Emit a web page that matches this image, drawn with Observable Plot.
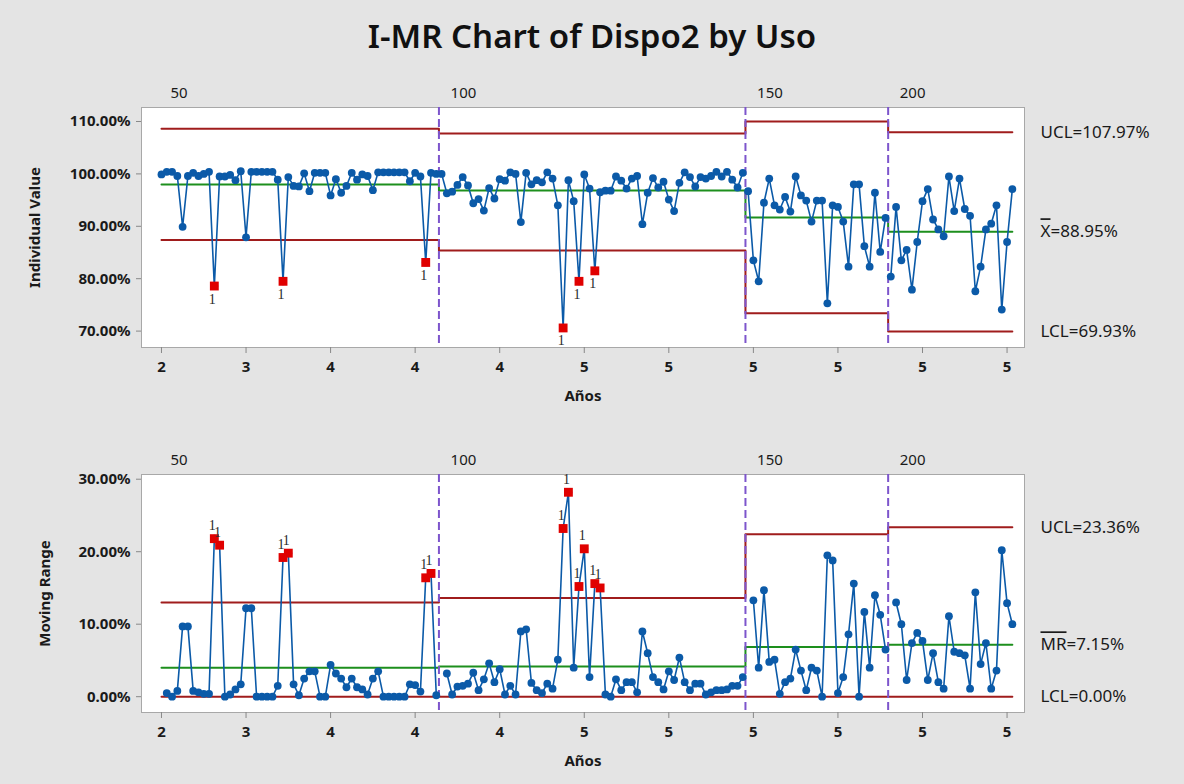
<!DOCTYPE html>
<html><head><meta charset="utf-8">
<script src="https://cdn.jsdelivr.net/npm/d3@7"></script>
<script src="https://cdn.jsdelivr.net/npm/@observablehq/plot@0.6"></script>
<style>
body{margin:0;background:#e4e4e4;font-family:"Noto Sans",sans-serif;}
#wrap{width:1184px;height:784px;overflow:hidden;background:#e4e4e4;}
#title{height:72px;line-height:72px;text-align:center;font-size:33px;font-weight:600;color:#111;}
svg{display:block}
</style></head><body><div id="wrap"><div id="title">I-MR Chart of Dispo2 by Uso</div><div id="top"></div><div id="bot"></div></div>
<script>
// ---- data ----
const stageLabels = ["50", "100", "150", "200"];
const stageSizes = [53, 58, 27, 24];
const individual = [
  // Uso 50
  99.9, 100.4, 100.4, 99.6, 89.9, 99.6, 100.2, 99.6, 100.0, 100.4,
  78.6, 99.5, 99.5, 99.8, 98.8, 100.5, 87.9, 100.4, 100.4, 100.4,
  100.4, 100.4, 98.9, 79.5, 99.4, 97.7, 97.6, 100.1, 96.7, 100.2,
  100.2, 100.2, 95.9, 99.0, 96.4, 97.7, 100.2, 98.9, 99.9, 99.6,
  96.9, 100.3, 100.3, 100.3, 100.3, 100.3, 100.3, 98.6, 100.2, 99.5,
  83.1, 100.2, 100.0,
  // Uso 100
  100.0, 96.3, 96.6, 97.9, 99.4, 97.8, 94.4, 95.2, 93.0, 97.3,
  95.3, 99.0, 98.7, 100.3, 100.0, 90.8, 100.2, 98.0, 98.8, 98.4,
  100.3, 99.1, 94.0, 70.6, 98.8, 94.8, 79.5, 99.9, 97.2, 81.5,
  96.5, 96.8, 96.8, 99.5, 98.7, 97.2, 99.1, 99.6, 90.4, 96.4,
  99.2, 97.4, 98.5, 95.1, 92.9, 98.3, 100.3, 99.4, 97.6, 99.4,
  99.1, 99.6, 100.4, 99.5, 100.4, 98.9, 97.4, 100.2,
  // Uso 150
  96.7, 83.5, 79.5, 94.5, 99.1, 94.0, 93.2, 95.6, 92.8, 99.5,
  95.9, 94.9, 90.9, 94.9, 94.9, 75.3, 94.0, 93.7, 90.9, 82.3,
  98.0, 98.0, 86.2, 82.3, 96.4, 85.1, 91.6,
  // Uso 200
  80.4, 93.7, 83.5, 85.5, 77.9, 87.0, 94.8, 97.1, 91.3, 89.4,
  88.1, 99.5, 92.9, 99.1, 93.3, 92.0, 77.6, 82.3, 89.4, 90.5,
  94.0, 74.1, 87.0, 97.1
];
const movingRange = [
  // Uso 50
  null, 0.5, 0.0, 0.8, 9.7, 9.7, 0.8, 0.6, 0.4, 0.4,
  21.8, 20.9, 0.0, 0.3, 1.0, 1.7, 12.2, 12.2, 0.0, 0.0,
  0.0, 0.0, 1.5, 19.2, 19.8, 1.7, 0.2, 2.5, 3.5, 3.5,
  0.0, 0.0, 4.4, 3.2, 2.5, 1.3, 2.5, 1.3, 1.0, 0.3,
  2.5, 3.5, 0.0, 0.0, 0.0, 0.0, 0.0, 1.7, 1.6, 0.7,
  16.4, 17.0, 0.2,
  // Uso 100
  null, 3.2, 0.3, 1.4, 1.5, 1.8, 3.3, 0.9, 2.4, 4.6,
  2.0, 3.8, 0.3, 1.5, 0.3, 9.0, 9.3, 1.9, 0.9, 0.5,
  1.8, 1.1, 5.1, 23.2, 28.2, 4.0, 15.2, 20.4, 2.7, 15.6,
  15.0, 0.3, 0.0, 2.4, 0.9, 2.0, 2.0, 0.6, 9.0, 6.0,
  2.7, 2.0, 1.0, 3.5, 2.3, 5.4, 2.0, 0.9, 1.8, 1.8,
  0.3, 0.6, 0.9, 0.9, 1.0, 1.5, 1.5, 2.7,
  // Uso 150
  null, 13.3, 4.0, 14.7, 4.8, 5.1, 0.4, 2.0, 2.5, 6.5,
  3.6, 0.9, 4.0, 3.6, 0.0, 19.5, 18.8, 0.5, 2.7, 8.6,
  15.6, 0.0, 11.7, 4.0, 14.0, 11.3, 6.5,
  // Uso 200
  null, 13.0, 10.0, 2.3, 7.4, 8.8, 7.7, 2.3, 6.0, 2.0,
  1.1, 11.1, 6.2, 6.0, 5.7, 1.1, 14.4, 4.5, 7.4, 1.1,
  3.6, 20.2, 12.9, 10.0
];
const iUCL = [108.6, 107.7, 110.0, 107.97];
const iCL  = [97.98, 96.83, 91.68, 88.95];
const iLCL = [87.4, 85.4, 73.4, 69.93];
const mrUCL = [13.0, 13.6, 22.4, 23.36];
const mrCL  = [3.99, 4.17, 6.85, 7.15];
const mrLCL = [0, 0, 0, 0];
const xTickObs = [1, 17, 33, 49, 65, 81, 97, 113, 129, 145, 161];
const xTickLabels = ["2", "3", "4", "4", "4", "5", "5", "5", "5", "5", "5"];
const iTicks = [70, 80, 90, 100, 110];
const mrTicks = [0, 10, 20, 30];

// ---- derived tables ----
const starts = [];
{ let s = 1; for (const n of stageSizes) { starts.push(s); s += n; } }
const rows = individual.map((v, k) => {
  const obs = k + 1;
  let st = 0; while (st < starts.length - 1 && obs >= starts[st + 1]) st++;
  return {obs, stage: st, value: v, mr: movingRange[k]};
});
const boundaries = starts.slice(1).map(s => s - 0.5);
function stepLine(vals) {
  const pts = [];
  vals.forEach((v, k) => {
    const f = starts[k], l = f + stageSizes[k] - 1;
    pts.push({x: k === 0 ? f : f - 0.5, y: v});
    pts.push({x: k === vals.length - 1 ? l : l + 0.5, y: v});
  });
  return pts;
}
const stageRows = stageLabels.map((label, k) => ({label, first: starts[k]}));
const tickMap = new Map(xTickObs.map((o, k) => [o, xTickLabels[k]]));

const BLUE = "#0b5aa8", RED = "#a01c1c", GREEN = "#1d8f1d", PURPLE = "#7d55cc", OUT = "#e00000";
const xDomain = [-2.78, 164.3];
const fontFam = "'Noto Sans', sans-serif";

function panel({height, marginTop, marginBottom, yDomain, yTicks, yLabel, field, ucl, cl, lcl, labels, below, yTitleDx}) {
  const data = rows.filter(d => d[field] != null);
  const out = data.filter(d => d[field] > ucl[d.stage] || d[field] < lcl[d.stage]);
  const last = ucl.length - 1;
  const rightLabels = [
    {v: ucl[last], t: labels[0]},
    {v: cl[last], t: labels[1]},
    {v: lcl[last], t: labels[2]}
  ];
  const svg = Plot.plot({
    width: 1184, height, marginLeft: 141, marginRight: 160, marginTop, marginBottom,
    style: {background: "transparent", fontFamily: fontFam, fontSize: "15px", color: "#1a1a1a", overflow: "visible"},
    x: {domain: xDomain, axis: null},
    y: {domain: yDomain, axis: null},
    marks: [
      Plot.frame({fill: "white", stroke: "#a8a8a8"}),
      Plot.axisY({ticks: yTicks, tickFormat: d => d.toFixed(2) + "%", tickSize: 5, tickPadding: 6, label: null, fontWeight: "bold", fontSize: 15, stroke: "#888"}),
      Plot.axisX({ticks: xTickObs, tickFormat: d => tickMap.get(d), tickSize: 6, tickPadding: 8, label: null, fontWeight: "bold", fontSize: 15, stroke: "#888"}),
      Plot.text([yLabel], {text: d => d, frameAnchor: "left", dx: yTitleDx, rotate: -90, textAnchor: "middle", lineAnchor: "middle", fontWeight: "bold", fontSize: 15, fill: "#1a1a1a"}),
      Plot.text(["Años"], {text: d => d, frameAnchor: "bottom", dy: 49, textAnchor: "middle", lineAnchor: "middle", fontWeight: "bold", fontSize: 15, fill: "#1a1a1a"}),
      Plot.text(stageRows, {x: "first", text: "label", frameAnchor: "top", dy: -14, dx: 9, textAnchor: "start", lineAnchor: "middle", fontSize: 15, fill: "#1a1a1a"}),
      Plot.line(stepLine(ucl), {x: "x", y: "y", stroke: RED, strokeWidth: 2}),
      Plot.line(stepLine(lcl), {x: "x", y: "y", stroke: RED, strokeWidth: 2}),
      Plot.line(stepLine(cl), {x: "x", y: "y", stroke: GREEN, strokeWidth: 2}),
      Plot.ruleX(boundaries, {stroke: PURPLE, strokeWidth: 2, strokeDasharray: "8,4"}),
      Plot.line(data, {x: "obs", y: field, z: "stage", stroke: BLUE, strokeWidth: 1.6}),
      Plot.dot(data, {x: "obs", y: field, r: 3.9, fill: BLUE, stroke: "none"}),
      Plot.dot(out, {x: "obs", y: field, r: 5, symbol: "square", fill: OUT, stroke: "none"}),
      Plot.text(out, {x: "obs", y: field, text: () => "1", dy: below ? 13 : -13, dx: -2, fontFamily: "'Liberation Serif', serif", fontSize: 14, fill: "#2a2a2a"}),
      Plot.text(rightLabels, {y: "v", text: "t", frameAnchor: "right", dx: 16, textAnchor: "start", lineAnchor: "middle", fontSize: 17, fill: "#1a1a1a"})
    ]
  });
  // overline on the centre-line symbol (X̄ / MR̄)
  svg.querySelectorAll("text").forEach(t => {
    if (t.textContent === labels[1]) {
      const [sym, rest] = labels[1].split("=");
      t.textContent = "";
      const ts = document.createElementNS("http://www.w3.org/2000/svg", "tspan");
      ts.setAttribute("text-decoration", "overline");
      ts.style.textDecoration = "overline";
      ts.textContent = sym;
      t.append(ts, "=" + rest);
    }
  });
  return svg;
}

const fmt = v => v.toFixed(2) + "%";
const last = iUCL.length - 1;
document.getElementById("top").append(panel({
  height: 368, marginTop: 35, marginBottom: 93, yDomain: [66.87, 112.67], yTicks: iTicks,
  yLabel: "Individual Value", field: "value", ucl: iUCL, cl: iCL, lcl: iLCL,
  labels: ["UCL=" + fmt(iUCL[last]), "X=" + fmt(iCL[last]), "LCL=" + fmt(iLCL[last])], below: true, yTitleDx: -106
}));
document.getElementById("bot").append(panel({
  height: 344, marginTop: 34, marginBottom: 72, yDomain: [-2.18, 30.65], yTicks: mrTicks,
  yLabel: "Moving Range", field: "mr", ucl: mrUCL, cl: mrCL, lcl: mrLCL,
  labels: ["UCL=" + fmt(mrUCL[last]), "MR=" + fmt(mrCL[last]), "LCL=" + fmt(mrLCL[last])], below: false, yTitleDx: -96
}));
</script></body></html>
